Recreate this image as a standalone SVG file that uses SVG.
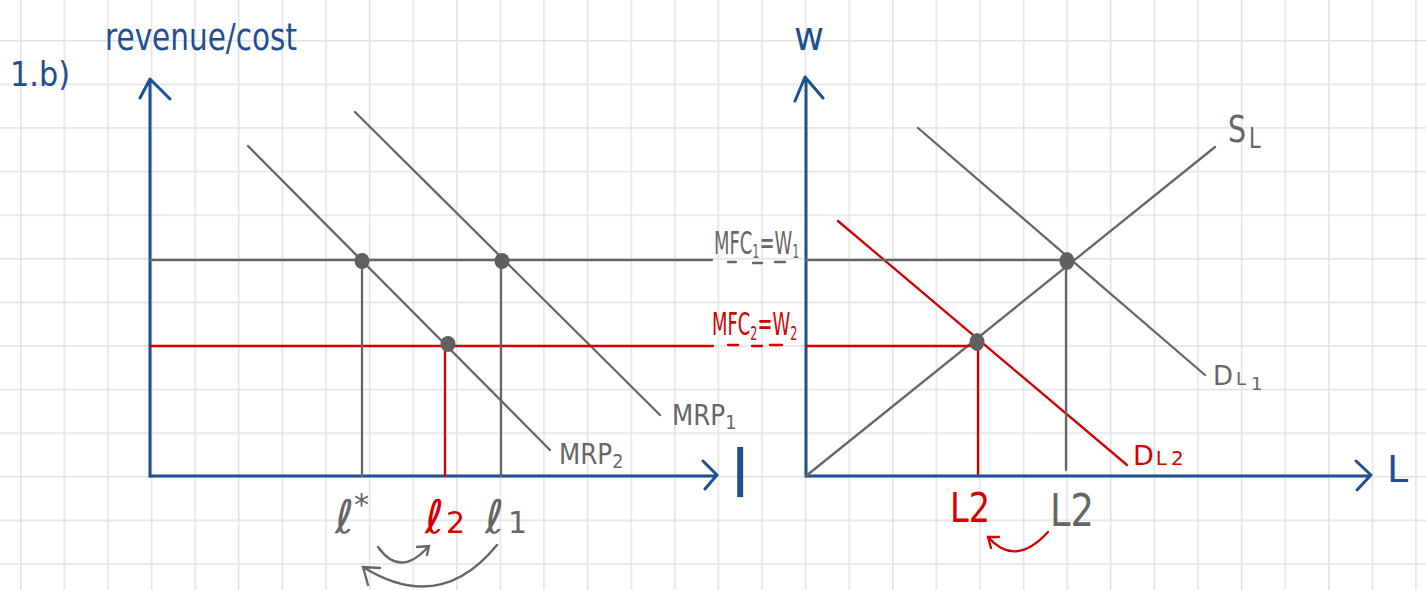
<svg xmlns="http://www.w3.org/2000/svg" width="1426" height="590" viewBox="0 0 1426 590">
<defs>
<pattern id="grid" patternUnits="userSpaceOnUse" x="20" y="40" width="43.6" height="43.6">
<path d="M0.75 0V43.6M0 0.75H43.6" stroke="#e2e2e2" stroke-width="1.5" fill="none"/>
</pattern>
</defs>
<style>
.ax{stroke:#1d4f91;stroke-width:3;fill:none;stroke-linecap:round;stroke-linejoin:round}
.g{stroke:#666;stroke-width:2.3;fill:none;stroke-linecap:round}
.r{stroke:#d40000;stroke-width:2.3;fill:none;stroke-linecap:round}
.dot{fill:#606060}
text{font-family:"DejaVu Sans","Liberation Sans",sans-serif}
.tb{fill:#1d4f91}
.tg{fill:#666}
.tr{fill:#d40000}
</style>
<rect width="1426" height="590" fill="#fff"/>
<rect width="1426" height="590" fill="url(#grid)"/>

<g id="connectors">
<path class="ax" d="M150 476V80M140 98L150 79L170 99"/>
<path class="ax" d="M150 476H716M703 461L717 475L705 489"/>
<path class="ax" d="M806 476V78M795 101L805 77L823 98"/>
<path class="ax" d="M806 476H1368M1356 461L1371 475L1357 490"/>
<path class="g" d="M248 146L550 450"/>
<path class="g" d="M355 112L660 415"/>
<path class="g" d="M150 260H712"/>
<path class="g" d="M728 262H736M753 263H762M775 262H785"/>
<path class="r" d="M150 346H713"/>
<path class="r" d="M728 345H738M752 346H762M770 345H782"/>
<path class="g" d="M362 261V476M501 261V476"/>
<path class="r" d="M445 344V476"/>
<path class="g" d="M806 476L1215 147"/>
<path class="g" d="M918 128L1205 375"/>
<path class="r" d="M838 221L1127 465"/>
<path class="g" d="M806 260H1067M1066 261V470"/>
<path class="r" d="M806 346H977M978 344V474"/>
<path class="g" d="M378 547Q400 578 428 547M417 547L429 546L427 555"/>
<path class="g" d="M497 545Q440 615 363 567M380 568L363 567L368 585"/>
<path class="r" d="M1048 532Q1015 568 988 537M999 537L988 537L991 548"/>
</g>

<g id="dots">
<ellipse class="dot" cx="362" cy="261" rx="7.5" ry="8"/>
<ellipse class="dot" cx="502" cy="261" rx="7.5" ry="8"/>
<ellipse class="dot" cx="448" cy="344" rx="7.5" ry="8"/>
<ellipse class="dot" cx="1067" cy="261" rx="7.5" ry="9"/>
<ellipse class="dot" cx="977" cy="342" rx="7.5" ry="9"/>
</g>

<g id="title"><text class="tb" x="10" y="86" font-size="34" textLength="60" lengthAdjust="spacingAndGlyphs">1.b)</text></g>
<g id="y-label-left"><text class="tb" x="105" y="50" font-size="38" textLength="192" lengthAdjust="spacingAndGlyphs">revenue/cost</text></g>
<g id="x-label-left"><text class="tb" x="731" y="497" font-size="66" font-family="Liberation Sans">l</text></g>
<g id="y-label-right"><text class="tb" x="794" y="50" font-size="40" textLength="30" lengthAdjust="spacingAndGlyphs">w</text></g>
<g id="x-label-right"><text class="tb" x="1387" y="482" font-size="38">L</text></g>

<g id="mfc1"><text class="tg" transform="translate(714 254) scale(0.56 1)" font-size="32">MFC<tspan font-size="20" dy="4">1</tspan><tspan dy="-4">=W</tspan><tspan font-size="20" dy="4">1</tspan></text></g>
<g id="mfc2"><text class="tr" transform="translate(712 335) scale(0.56 1)" font-size="32">MFC<tspan font-size="20" dy="5">2</tspan><tspan dy="-5">=W</tspan><tspan font-size="20" dy="5">2</tspan></text></g>

<g id="mrp1"><text class="tg" transform="translate(672 425) scale(0.88 1)" font-size="28">MRP<tspan font-size="20" dy="4">1</tspan></text></g>
<g id="mrp2"><text class="tg" transform="translate(559 464) scale(0.88 1)" font-size="28">MRP<tspan font-size="20" dy="4">2</tspan></text></g>

<g id="l-star"><text class="tg" x="335" y="533" font-size="46">ℓ<tspan font-size="30" dy="-18">*</tspan></text></g>
<g id="l2"><text class="tr" x="425" y="533" font-size="46">ℓ<tspan font-size="30" dx="2">2</tspan></text></g>
<g id="l1"><text class="tg" x="485" y="533" font-size="46">ℓ<tspan font-size="30" dx="4">1</tspan></text></g>

<g id="L2-red"><text class="tr" x="950" y="522" font-size="40" textLength="40" lengthAdjust="spacingAndGlyphs">L2</text></g>
<g id="L2-gray"><text class="tg" x="1050" y="526" font-size="44" textLength="44" lengthAdjust="spacingAndGlyphs">L2</text></g>

<g id="SL"><text class="tg" transform="translate(1228 142) scale(0.75 1)" font-size="38">S<tspan font-size="28" dx="4" dy="6">L</tspan></text></g>
<g id="DL1"><text class="tg" x="1213" y="385" font-size="26">D<tspan font-size="18" dx="3">L</tspan><tspan font-size="18" dx="5" dy="5">1</tspan></text></g>
<g id="DL2"><text class="tr" x="1133" y="465" font-size="27">D<tspan font-size="20" dx="2">L</tspan><tspan font-size="20" dx="4">2</tspan></text></g>
</svg>
